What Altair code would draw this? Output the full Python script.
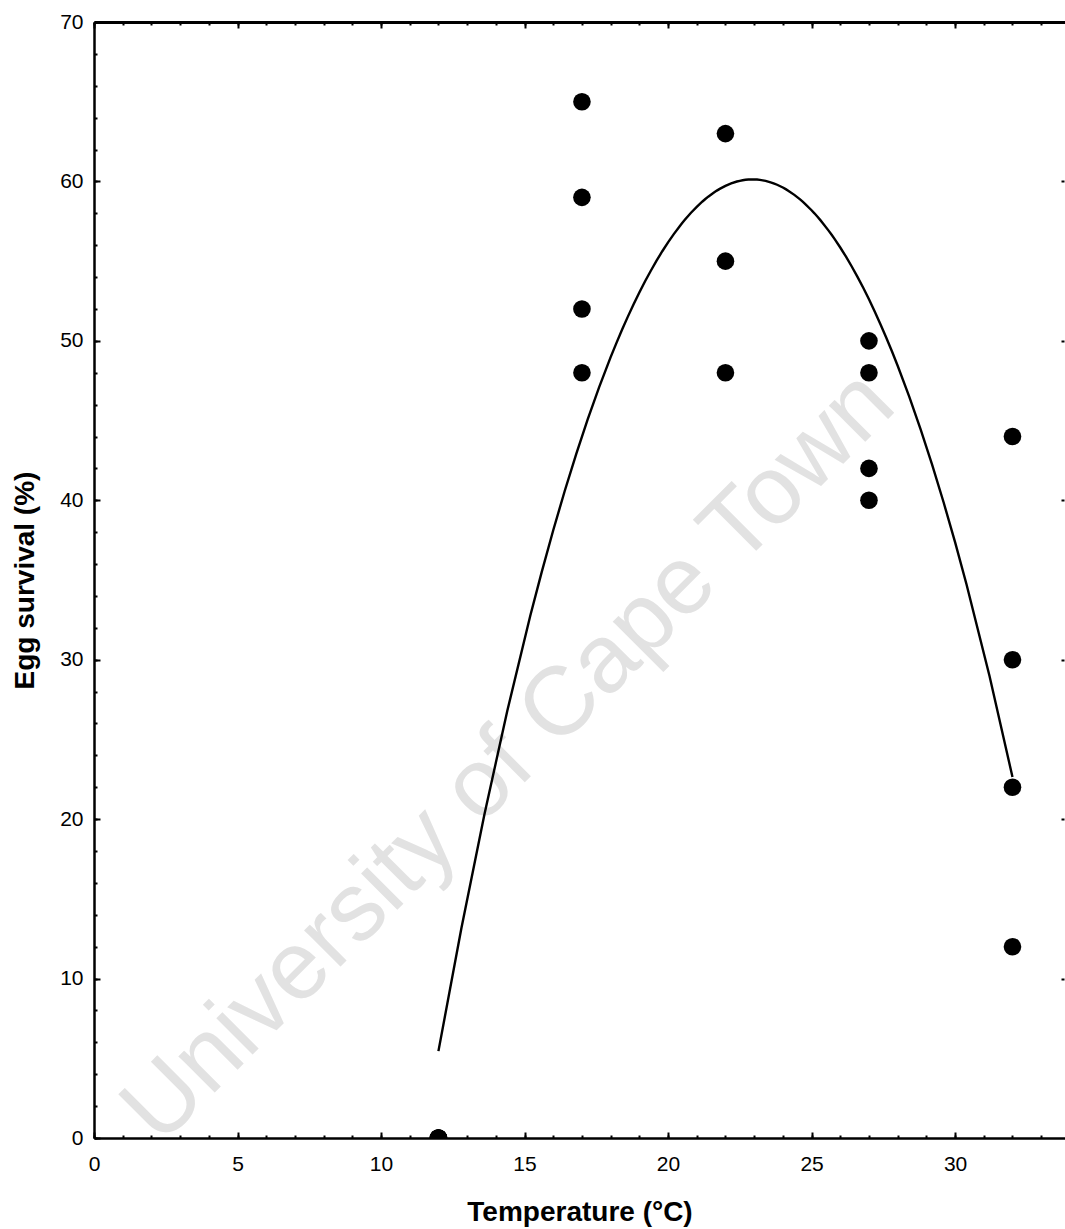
import altair as alt
import pandas as pd

# ---- data ----
temperature = [12, 12, 12, 12, 17, 17, 17, 17, 22, 22, 22, 27, 27, 27, 27, 32, 32, 32, 32]
egg_survival = [0, 0, 0, 0, 65, 59, 52, 48, 63, 55, 48, 50, 48, 42, 40, 44, 30, 22, 12]

x_major = [0, 5, 10, 15, 20, 25, 30]
x_minor = list(range(0, 34))
y_major = [0, 10, 20, 30, 40, 50, 60, 70]
y_minor = list(range(0, 71, 2))
y_right = [10, 20, 30, 40, 50, 60]

x_title = "Temperature (°C)"
y_title = "Egg survival (%)"
watermark = ["University of Cape Town"]

df = pd.DataFrame({"x": temperature, "y": egg_survival})
wm_df = pd.DataFrame({"label": watermark})

FONT = "Liberation Sans"
xs = alt.Scale(domain=[0, 33.83], nice=False, zero=False)
ys = alt.Scale(domain=[0, 70], nice=False)


def tick_axis(orient, values, size, offset):
    return alt.Axis(orient=orient, values=values, labels=False, domain=False,
                    ticks=True, tickSize=size, tickWidth=2, tickColor="black",
                    offset=offset, title=None, grid=False)


wm = alt.Chart(wm_df).mark_text(
    angle=315, fontSize=97, font=FONT, color="#e2e2e2",
    align="center", baseline="middle"
).encode(x=alt.value(415), y=alt.value(735), text="label:N")

fit = alt.Chart(df).transform_regression(
    "x", "y", method="poly", order=2, extent=[12, 32]
).mark_line(color="black", strokeWidth=2.4).encode(
    x=alt.X("x:Q", scale=xs, axis=None),
    y=alt.Y("y:Q", scale=ys, axis=None),
)

pts = alt.Chart(df).mark_circle(size=310, color="black", opacity=1, clip=True).encode(
    x=alt.X("x:Q", scale=xs, axis=alt.Axis(
        orient="bottom", values=x_major, title=x_title, ticks=False,
        domain=True, domainColor="black", domainWidth=2.5, grid=False,
        labelFont=FONT, labelFontSize=21, labelColor="black", labelPadding=15,
        labelFlush=False,
        titleFont=FONT, titleFontSize=28, titleFontWeight="bold", titleColor="black",
        titleBaseline="alphabetic", titleY=82)),
    y=alt.Y("y:Q", scale=ys, axis=alt.Axis(
        orient="left", values=y_major, title=y_title, ticks=False,
        domain=True, domainColor="black", domainWidth=2.5, grid=False,
        labelFont=FONT, labelFontSize=21, labelColor="black", labelPadding=11,
        labelFlush=False,
        titleFont=FONT, titleFontSize=28, titleFontWeight="bold", titleColor="black",
        titleBaseline="alphabetic", titleX=-61)),
)


def ghost(xaxis, yaxis):
    return alt.Chart(df).mark_point(opacity=0).encode(
        x=alt.X("x:Q", scale=xs, axis=xaxis),
        y=alt.Y("y:Q", scale=ys, axis=yaxis),
    )


l1 = ghost(tick_axis("bottom", x_major, 6, -6), tick_axis("left", y_major, 6, -6))
l2 = ghost(tick_axis("bottom", x_minor, 3, -3), tick_axis("left", y_minor, 3, -3))
l3 = ghost(tick_axis("top", x_major, 6, -6), tick_axis("right", y_right, 3, -4))
l4 = ghost(tick_axis("top", x_minor, 3, -3), None)
l5 = ghost(alt.Axis(orient="top", labels=False, ticks=False, domain=True,
                    domainColor="black", domainWidth=3, title=None, grid=False), None)

chart = alt.layer(wm, fit, pts, l1, l2, l3, l4, l5).resolve_axis(
    x="independent", y="independent"
).properties(
    width=971, height=1116,
    autosize=alt.AutoSizeParams(type="none"),
    padding={"left": 94, "top": 22, "right": 0, "bottom": 91},
    background="white",
).configure_view(strokeWidth=0)

chart.save("out.html", embed_options={"renderer": "svg", "actions": False})
